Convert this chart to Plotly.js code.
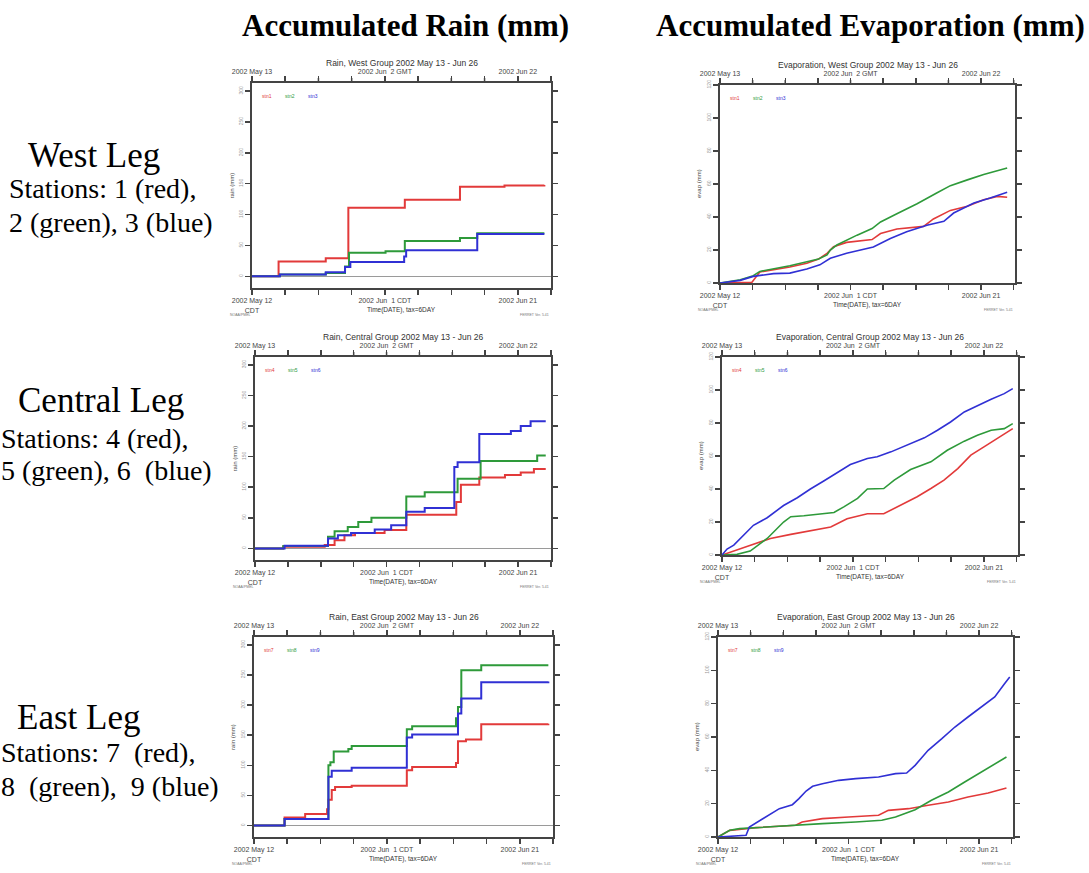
<!DOCTYPE html>
<html><head><meta charset="utf-8">
<script src="https://cdn.plot.ly/plotly-3.0.1.min.js"></script>
<style>html,body{margin:0;padding:0;background:#fff;}#chart{width:1089px;height:873px;}</style>
</head><body><div id="chart"></div>
<script>
// ---------- DATA (days since 2002-05-12 00:00 CDT, values in mm) ----------
const tickDays = [0,5,10,15,20,25,30,35,40,45];
const bottomTickText = ["2002 May 12<br>CDT","","","","2002 Jun  1 CDT","","","","2002 Jun 21",""];
const topTickText = ["2002 May 13","","","","2002 Jun  2 GMT","","","","2002 Jun 22",""];
const rainTicks = [0,50,100,150,200,250,300];
const evapTicks = [0,20,40,60,80,100,120];

// West rain (stations 1,2,3)
const wrRedDay = [0,4.0,11.1,14.5,23.0,31.3,38,44];
const wrRedMm  = [0,24,29,111,124,145,147,148];
const wrGrnDay = [0,4.2,11.1,14.0,14.6,20.1,23.0,31.3,33.9,44];
const wrGrnMm  = [0,3,5.4,16,38,40.5,57,62,69.5,69.5];
const wrBluDay = [0,4.2,11.1,14.0,14.8,22.9,23.2,33.9,44];
const wrBluMm  = [0,2.7,6.5,15,23,32,42,68.5,68.5];

// Central rain (stations 4,5,6)
const crRedDay = [0,4.3,10.6,12.1,13.6,15.2,19.7,23,30.6,31.3,34.1,38,40.4,42.4,44.2];
const crRedMm  = [0,2.7,5.4,13.5,21.6,25,30,55,76,104,116,120,124,130,130];
const crGrnDay = [0,4.3,11.1,12.1,14.1,15.7,17.7,23,25.8,30.8,34.3,42.9,44.2];
const crGrnMm  = [0,3.8,19,28,35,43,50,85,92,114,143,152,152];
const crBluDay = [0,4.5,11.1,12.6,14.6,18.2,20.7,23,25.8,30.3,30.8,34.1,38.9,40.4,41.9,44.2];
const crBluMm  = [0,4.3,16,21.6,25,31,38,60,66,133,141,187,192,200,208,208];

// East rain (stations 7,8,9)
const erRedDay = [0,4.6,7.7,11.0,11.2,11.7,12.2,14.7,23,23.8,30.4,30.7,31.9,34.2,44.3];
const erRedMm  = [0,13.5,19,27,43,59,64,66,92,97,104,140,143,168,169];
const erGrnDay = [0,4.6,11.2,11.5,12,14.2,14.7,23,23.8,30.4,30.7,31.2,34.2,44.3];
const erGrnMm  = [0,11,100,105,123,127,132,160,165,178,197,258,266,266];
const erBluDay = [0,4.6,11.2,11.7,14.7,23,23.8,30.7,31.2,34.2,44.3];
const erBluMm  = [0,11,81,91,96,146,151,186,211,238,239];

// West evaporation
const weRedDay = [0,4.9,6.1,10.7,13.3,15.1,16.4,17.4,19.4,23.3,24.6,27.1,31.2,32.7,35.3,37.9,40.4,42.5,44];
const weRedMm  = [0,0.5,6.7,9.7,12,14.5,18,22,24.6,26.3,30,32.7,34.3,38.8,44,46.5,50.5,52.5,52];
const weGrnDay = [0,3.1,5.1,6.1,10.7,13.3,15.1,16.4,16.9,17.9,19.4,21,23.3,24.6,27.1,30.2,33.2,35.3,37.9,40.4,44];
const weGrnMm  = [0,2,4.4,7,10.5,13,14.5,17,20,23,26,29,33,37,42,48,54.5,59,62.5,65.7,69.7];
const weBluDay = [0,3.1,5.1,8.2,10.7,13.3,15.3,16.9,19.4,23.5,26.1,28.6,31.7,34.3,35.8,38.9,41.4,44];
const weBluMm  = [0,1.6,4,5.7,6,8.5,11,15,18,21.8,27,31,35,37.4,42.4,48.5,51.5,55];

// Central evaporation
const ceRedDay = [0,1.8,4.3,7.4,10.5,13.5,16.6,19.1,22.2,24.7,26.8,29.8,31.9,33.9,36,38,40,42.1,44.4];
const ceRedMm  = [0,2.4,6,10,12.5,14.5,17,22,25,25,29.2,35.3,40.3,45.4,52.4,60.5,65.5,70.6,76.6];
const ceGrnDay = [0,2.3,4.3,6.9,9.4,10.5,12.5,14.5,17.1,18.6,20.7,22.2,24.7,26.3,28.8,31.9,34.4,37,39,41.1,43.1,44.4];
const ceGrnMm  = [0,0.4,2.4,10,20,23.2,23.8,24.6,25.8,29.2,34.3,40,40.3,45.4,51.8,56.5,63.5,69,72.6,75.6,76.6,79.6];
const ceBluDay = [0,0.77,1.8,3.3,4.8,6.9,9.4,11.5,13.5,15.6,17.6,19.6,22.2,23.7,25.8,28.8,30.9,32.9,34.9,37,39,41.1,43.1,44.4];
const ceBluMm  = [0,3.6,6,12,18,22.6,30,34.7,40,45,50,54.8,58.5,59.5,62.5,67.5,71,75.6,80.6,86.7,90.7,94.4,97.8,100.8];

// East evaporation
const eeRedDay = [0,1.8,5.8,11.9,12.9,16,20,24.6,26.1,29.2,32.2,35.3,38.3,41.4,44.2];
const eeRedMm  = [0,4,5.6,7,9,11,12,13,16,17,19,21,24,26.4,29.4];
const eeGrnDay = [0,1.8,3.3,5.8,10.9,16,21.1,25.1,27.2,30.2,32.7,35.3,37.8,40.4,42.4,44.2];
const eeGrnMm  = [0,4,5,5.6,7,8,9,10,12,16.4,22,27,33,39,44,48];
const eeBluDay = [0,2.8,4.3,4.8,6.9,9.4,11.4,12.4,13.5,14.5,16,18.5,21.1,24.6,27.2,28.9,30.2,32.2,34.3,36.3,38.3,40.4,42.4,43.9,44.7];
const eeBluMm  = [0,0.4,1,6,11,17,19.4,23,27.6,30.4,32,34,35,36,38,38.4,43,52,59,66,72,78,84,92,96];

// ---------- BUILD ----------
const W = 1089, H = 873;
const DAY = 86400000, T0 = Date.UTC(2002,4,12);
function d2s(d){ return new Date(T0 + d*DAY).toISOString().replace('T',' ').slice(0,19); }
const COLORS = ['#e23a3a','#2e9a3a','#3030d4'];
const FS = 'Liberation Sans, Arial, sans-serif';
const SERIF = 'Liberation Serif, Times New Roman, serif';

const panels = [
  {kind:'rain', title:'Rain, West Group 2002 May 13 - Jun 26', stn:[1,2,3], l:252,r:551,t:83,b:288,
   series:[[wrRedDay,wrRedMm],[wrGrnDay,wrGrnMm],[wrBluDay,wrBluMm]]},
  {kind:'evap', title:'Evaporation, West Group 2002 May 13 - Jun 26', stn:[1,2,3], l:720,r:1015,t:85,b:283,
   series:[[weRedDay,weRedMm],[weGrnDay,weGrnMm],[weBluDay,weBluMm]]},
  {kind:'rain', title:'Rain, Central Group 2002 May 13 - Jun 26', stn:[4,5,6], l:255,r:551,t:357,b:560,
   series:[[crRedDay,crRedMm],[crGrnDay,crGrnMm],[crBluDay,crBluMm]]},
  {kind:'evap', title:'Evaporation, Central Group 2002 May 13 - Jun 26', stn:[4,5,6], l:722,r:1018,t:357,b:555,
   series:[[ceRedDay,ceRedMm],[ceGrnDay,ceGrnMm],[ceBluDay,ceBluMm]]},
  {kind:'rain', title:'Rain, East Group 2002 May 13 - Jun 26', stn:[7,8,9], l:254,r:553,t:637,b:837,
   series:[[erRedDay,erRedMm],[erGrnDay,erGrnMm],[erBluDay,erBluMm]]},
  {kind:'evap', title:'Evaporation, East Group 2002 May 13 - Jun 26', stn:[7,8,9], l:718,r:1013,t:637,b:837,
   series:[[eeRedDay,eeRedMm],[eeGrnDay,eeGrnMm],[eeBluDay,eeBluMm]]}
];

const px = x => x / W;
const py = y => 1 - y / H;
const traces = [];
const layout = {
  width: W, height: H, margin:{l:0,r:0,t:0,b:0},
  paper_bgcolor:'#fff', plot_bgcolor:'#fff', showlegend:false,
  font:{family:FS, color:'#333'},
  annotations: [], shapes: []
};
const tickVals = tickDays.map(d2s);

panels.forEach((p, i) => {
  const n = i + 1, s = n === 1 ? '' : String(n), nt = n + 6;
  const isRain = p.kind === 'rain';
  const xEnd = isRain ? 45 : 45.2;
  const xr = [d2s(0), d2s(xEnd)];
  layout['xaxis' + s] = {
    domain:[px(p.l), px(p.r)], anchor:'y' + s, type:'date', range:xr,
    tickmode:'array', tickvals:tickVals, ticktext:bottomTickText,
    ticks:'outside', ticklen:5, tickwidth:1.5, tickcolor:'#444',
    showline:true, linecolor:'#444', linewidth:2, mirror:'allticks',
    showgrid:false, zeroline:false, tickfont:{size:7, color:'#444', family:FS}
  };
  layout['xaxis' + nt] = {
    overlaying:'x' + s, anchor:'y' + s, side:'top', type:'date', range:xr,
    tickmode:'array', tickvals:tickVals, ticktext:topTickText,
    ticks:'outside', ticklen:5, tickwidth:1, tickcolor:'rgba(0,0,0,0)',
    showline:false, showgrid:false, zeroline:false,
    tickfont:{size:7, color:'#444', family:FS}
  };
  layout['yaxis' + s] = {
    domain:[py(p.b), py(p.t)], anchor:'x' + s,
    range: isRain ? [-19, 313] : [0, 120],
    tickmode:'array', tickvals: isRain ? rainTicks : evapTicks,
    ticks:'outside', ticklen:5, tickwidth:1.5, tickcolor:'#444', tickangle:-90,
    showline:true, linecolor:'#444', linewidth:2, mirror:'allticks',
    showgrid:false, zeroline:isRain, zerolinecolor:'#9a9a9a', zerolinewidth:1.5,
    tickfont:{size:5, color:'#999', family:FS}
  };
  // top-axis tick marks (axis decoration, positioned on the date scale)
  tickDays.forEach(d => {
    if (d <= xEnd) layout.shapes.push({type:'line', xref:'x' + s, yref:'paper',
      x0:d2s(d), x1:d2s(d), y0:py(p.t), y1:py(p.t - 5), line:{color:'#444', width:1.5}});
  });
  // invisible trace so the top (GMT) axis is drawn
  traces.push({x:[d2s(0)], y:[0], xaxis:'x' + nt, yaxis:'y' + s, mode:'markers',
               marker:{opacity:0}, hoverinfo:'skip', showlegend:false});
  p.series.forEach((sr, k) => {
    traces.push({
      x: sr[0].map(d2s), y: sr[1], xaxis:'x' + s, yaxis:'y' + s, mode:'lines',
      line:{color:COLORS[k], width: isRain ? 2 : 1.6, shape: isRain ? 'hv' : 'linear'},
      name:'stn' + p.stn[k]
    });
    layout.annotations.push({
      xref:'paper', yref:'paper', x:px(p.l + 15 + 23*k), y:py(p.t + 13), text:'stn' + p.stn[k],
      showarrow:false, xanchor:'center', yanchor:'middle', font:{size:5, color:COLORS[k], family:FS}
    });
  });
  const cx = (p.l + p.r) / 2;
  layout.annotations.push(
    {xref:'paper', yref:'paper', x:px(cx), y:py(p.t - 20), text:p.title, showarrow:false,
     xanchor:'center', yanchor:'middle', font:{size:8.5, color:'#333', family:FS}},
    {xref:'paper', yref:'paper', x:px(cx), y:py(p.b + 22), text:'Time(DATE), tax=6DAY', showarrow:false,
     xanchor:'center', yanchor:'middle', font:{size:6.5, color:'#333', family:FS}},
    {xref:'paper', yref:'paper', x:px(p.l - 21), y:py((p.t + p.b) / 2), text: isRain ? 'rain (mm)' : 'evap (mm)',
     textangle:-90, showarrow:false, xanchor:'center', yanchor:'middle', font:{size:6, color:'#444', family:FS}},
    {xref:'paper', yref:'paper', x:px(p.l - 24), y:py(p.b + 27), text:'NOAA/PMEL', showarrow:false,
     xanchor:'left', yanchor:'middle', font:{size:3.5, color:'#777', family:FS}},
    {xref:'paper', yref:'paper', x:px(p.r), y:py(p.b + 27), text:'FERRET Ver. 5.41', showarrow:false,
     xanchor:'right', yanchor:'middle', font:{size:3.5, color:'#777', family:FS}}
  );
});

// slide text: [text, x, y, anchor, size, bold]
const slideText = [
  ['Accumulated Rain (mm)', 405, 25, 'center', 31, true],
  ['Accumulated Evaporation (mm)', 870, 25, 'center', 31, true],
  ['West Leg', 27, 155, 'left', 35, false],
  ['Stations: 1 (red),', 8, 188, 'left', 28, false],
  ['2 (green), 3 (blue)', 8, 222, 'left', 28, false],
  ['Central Leg', 17, 401, 'left', 35, false],
  ['Stations: 4 (red),', 0, 438, 'left', 28, false],
  ['5 (green), 6  (blue)', 0, 470, 'left', 28, false],
  ['East Leg', 16, 717, 'left', 35, false],
  ['Stations: 7  (red),', 0, 752, 'left', 28, false],
  ['8  (green),  9 (blue)', 0, 786, 'left', 28, false]
];
slideText.forEach(t => {
  layout.annotations.push({xref:'paper', yref:'paper', x:px(t[1]), y:py(t[2]),
    text: t[5] ? '<b>' + t[0] + '</b>' : t[0], showarrow:false, xanchor:t[3], yanchor:'middle',
    borderpad:0, font:{size:t[4], color:'#000', family:SERIF}});
});

Plotly.newPlot('chart', traces, layout, {staticPlot:true, displayModeBar:false});
</script></body></html>
